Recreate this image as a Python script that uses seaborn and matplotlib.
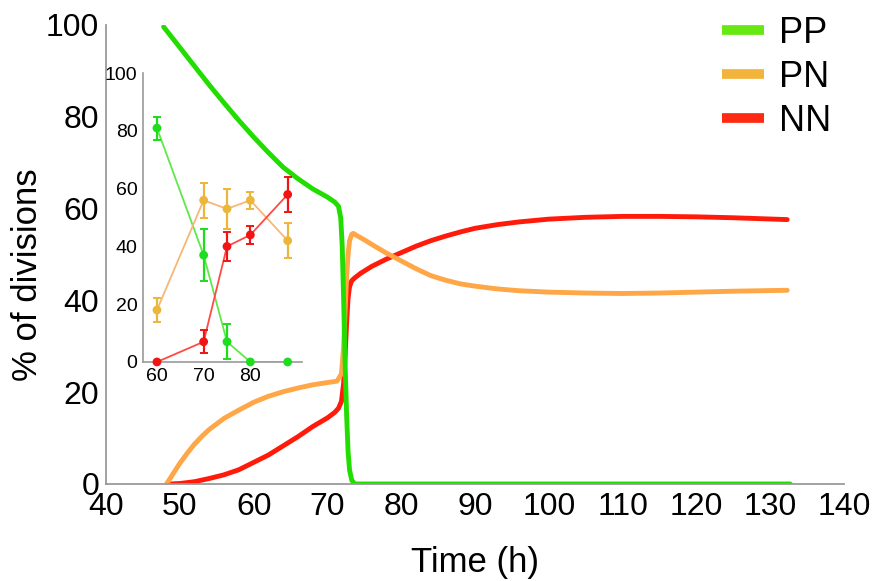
import numpy as np
import pandas as pd
import matplotlib
matplotlib.use("Agg")
import matplotlib.pyplot as plt
import seaborn as sns
from matplotlib.lines import Line2D

# ---- main model curves ----
pp_time = [47.8, 50, 52, 54, 56, 58, 60, 62, 64, 66, 68, 70, 71, 71.5, 71.8, 72.0, 72.2, 72.4,
           72.6, 72.8, 73.0, 73.3, 73.7, 75, 80, 90, 100, 110, 120, 132.7]
pp_value = [99.6, 95.1, 91.0, 86.9, 83.0, 79.2, 75.6, 72.2, 69.0, 66.5, 64.3, 62.5, 61.4, 60.5, 58.0,
            52.0, 40.0, 26.0, 15.0, 7.0, 3.0, 0.8, 0.0, 0.0, 0.0, 0.0, 0.0, 0.0, 0.0, 0.0]

pn_time = [48.2, 49, 50, 51, 52, 53, 54, 56, 58, 60, 62, 64, 66, 68, 70, 71.3, 71.9, 72.2, 72.4,
           72.6, 72.8, 73.0, 73.3, 73.5, 74, 75, 76, 78, 80, 82, 84, 86, 88, 90, 93, 96, 100,
           105, 110, 115, 120, 125, 132.3]
pn_value = [0.0, 2.0, 4.5, 6.7, 8.7, 10.4, 11.9, 14.3, 16.1, 17.8, 19.1, 20.1, 20.9, 21.6, 22.1,
            22.4, 24.0, 30.0, 38.0, 45.0, 50.0, 53.0, 54.4, 54.6, 54.1, 53.2, 52.2, 50.3, 48.6,
            46.9, 45.4, 44.4, 43.6, 43.1, 42.5, 42.1, 41.8, 41.6, 41.5, 41.6, 41.8, 42.0, 42.2]

nn_time = [48.7, 50, 52, 54, 56, 58, 60, 62, 64, 66, 68, 70, 71, 71.5, 71.9, 72.2, 72.4, 72.6,
           72.8, 73.0, 73.3, 73.7, 74.5, 76, 78, 80, 82, 84, 86, 88, 90, 93, 96, 100, 105, 110,
           115, 120, 125, 132.3]
nn_value = [0.0, 0.1, 0.5, 1.2, 2.0, 3.1, 4.7, 6.3, 8.3, 10.3, 12.5, 14.4, 15.6, 16.5, 18.0, 22.0,
            28.0, 35.0, 40.5, 43.0, 44.3, 44.9, 45.9, 47.4, 49.0, 50.4, 51.8, 53.0, 54.0, 54.9,
            55.7, 56.5, 57.1, 57.7, 58.1, 58.3, 58.3, 58.2, 58.0, 57.6]

# ---- inset experimental data ----
inset_time = [60, 70, 75, 80, 88]
pp_obs = [81, 37, 7, 0, 0]
pp_err = [4, 9, 6, 0, 0]
pn_obs = [18, 56, 53, 56, 42]
pn_err = [4, 6, 7, 3, 6]
nn_obs = [0, 7, 40, 44, 58]
nn_err = [0, 4, 5, 3, 6]

series_names = ["PP", "PN", "NN"]
main_x_ticks = [40, 50, 60, 70, 80, 90, 100, 110, 120, 130, 140]
main_y_ticks = [0, 20, 40, 60, 80, 100]
inset_x_ticks = [60, 70, 80]
inset_y_ticks = [0, 20, 40, 60, 80, 100]

sns.set_theme(style="white")
plt.rcParams['font.family'] = ['Liberation Sans', 'DejaVu Sans']
plt.rcParams['text.color'] = 'black'
plt.rcParams['axes.labelcolor'] = 'black'

main_colors = {"PP": "#22dd00", "PN": "#ffa646", "NN": "#ff1a0a"}
legend_colors = {"PP": "#66e810", "PN": "#f2b43c", "NN": "#ff2a12"}
axis_gray = "#9a9a9a"

df = pd.concat([
    pd.DataFrame({"Time": pp_time, "Value": pp_value, "Type": "PP"}),
    pd.DataFrame({"Time": pn_time, "Value": pn_value, "Type": "PN"}),
    pd.DataFrame({"Time": nn_time, "Value": nn_value, "Type": "NN"}),
], ignore_index=True)

fig = plt.figure(figsize=(8.77, 5.81), dpi=100)
fig.patch.set_facecolor("white")
ax = fig.add_axes([0.1209, 0.167, 0.8415, 0.790])

sns.lineplot(data=df, x="Time", y="Value", hue="Type", palette=main_colors,
             hue_order=["NN", "PN", "PP"], estimator=None, linewidth=3.5,
             legend=False, ax=ax)
for ln in ax.lines:
    ln.set_solid_joinstyle("round")

ax.set_xlim(40, 140)
ax.set_ylim(0, 100)
ax.set_xticks(main_x_ticks)
ax.set_yticks(main_y_ticks)
for side in ["top", "right"]:
    ax.spines[side].set_visible(False)
for side in ["left", "bottom"]:
    ax.spines[side].set_color(axis_gray)
    ax.spines[side].set_linewidth(1.3)
ax.tick_params(axis="both", direction="in", length=4, width=1, color=axis_gray,
               labelsize=23, labelcolor="black")
ax.tick_params(axis="x", pad=6)
ax.tick_params(axis="y", pad=5)
ax.set_xlabel("Time (h)", fontsize=25, color="black")
ax.set_ylabel("% of divisions", fontsize=25, color="black")
ax.xaxis.set_label_coords(0.5, -0.135)
ax.yaxis.set_label_coords(-0.084, 0.455)
ax.set_facecolor("white")

# legend
handles = [Line2D([0], [0], color=legend_colors[n], lw=7, solid_capstyle="butt")
           for n in series_names]
fig.legend(handles, series_names, loc="upper left", bbox_to_anchor=(0.803, 1.004),
           frameon=False, fontsize=26, handlelength=1.15, handletextpad=0.42,
           labelspacing=0.25, borderpad=0)

# ---- inset ----
axi = fig.add_axes([0.163, 0.377, 0.181, 0.497])
axi.patch.set_alpha(0)
inset_line_colors = {"PP": "#60e84a", "PN": "#f8b678", "NN": "#ff4a44"}
inset_marker_colors = {"PP": "#1edc1e", "PN": "#ebb63a", "NN": "#f01414"}
inset_obs = {"PP": (pp_obs, pp_err), "PN": (pn_obs, pn_err), "NN": (nn_obs, nn_err)}
for name in series_names:
    obs, err = inset_obs[name]
    d = pd.DataFrame({"Time": inset_time, "Value": obs})
    sns.lineplot(data=d, x="Time", y="Value", color=inset_line_colors[name],
                 linewidth=1.3, estimator=None, ax=axi)
    axi.errorbar(inset_time, obs, yerr=err, fmt="none", ecolor=inset_marker_colors[name],
                 elinewidth=1.6, capsize=3, capthick=1.4)
    sns.scatterplot(data=d, x="Time", y="Value", color=inset_marker_colors[name],
                    s=40, edgecolor="none", ax=axi, zorder=5)

axi.set_xlim(57, 91)
axi.set_ylim(0, 100)
axi.set_xticks(inset_x_ticks)
axi.set_yticks(inset_y_ticks)
for side in ["top", "right"]:
    axi.spines[side].set_visible(False)
for side in ["left", "bottom"]:
    axi.spines[side].set_color(axis_gray)
    axi.spines[side].set_linewidth(1.2)
axi.tick_params(axis="both", direction="in", length=3, width=1, color=axis_gray,
                labelsize=14, labelcolor="black", pad=4)
axi.set_xlabel("")
axi.set_ylabel("")
for p in axi.collections:
    p.set_clip_on(False)

fig.savefig("out.png", dpi=100, facecolor="white")
